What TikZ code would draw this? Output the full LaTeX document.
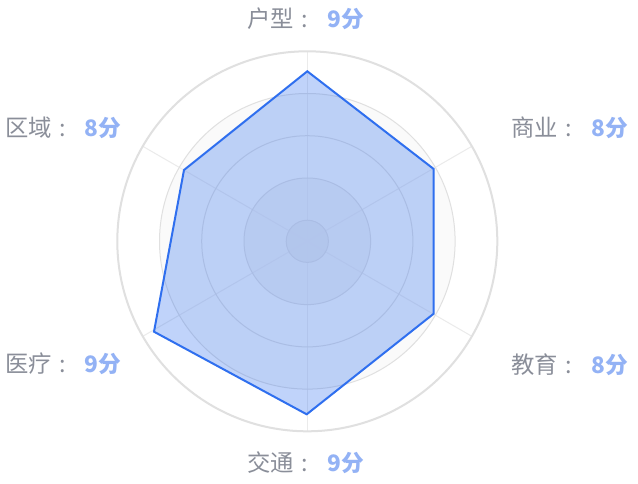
\documentclass[tikz,border=0pt]{standalone}
\usepackage{fontspec}
\newfontfamily\cjk{Noto Sans CJK SC}
\definecolor{ringA}{HTML}{FAFAFA}
\definecolor{ringB}{HTML}{F3F3F3}
\definecolor{ringC}{HTML}{ECECEC}
\definecolor{gridline}{HTML}{E0E0E0}
\definecolor{spoke}{HTML}{EBEBEB}
\definecolor{radarblue}{HTML}{2F6FEF}
\definecolor{labelgray}{HTML}{8A8E99}
\definecolor{scoreblue}{HTML}{93B2F5}
\tikzset{
  axislabel/.style={anchor=west, inner sep=0pt, text=labelgray, font=\cjk\fontsize{17.5pt}{20pt}\selectfont},
  scorelabel/.style={anchor=west, inner sep=0pt, text=scoreblue, font=\cjk\bfseries\fontsize{17pt}{20pt}\selectfont},
  ringline/.style={draw=gridline, line width=0.75pt},
  outerline/.style={draw=gridline, line width=1.5pt},
  spokeline/.style={draw=spoke, line width=0.75pt},
  radararea/.style={fill=radarblue, fill opacity=0.3, draw=radarblue, draw opacity=1, line width=1.5pt, line join=miter}
}
\newcommand\axtxt[1]{#1\hspace{6pt}:}
\begin{document}
\begin{tikzpicture}[x=0.75pt, y=-0.75pt]
\useasboundingbox[fill=white] (0,0) rectangle (638,484);
\coordinate (c) at (307.3,241.3);
% split areas
\fill[white] (c) circle[radius=190];
\fill[ringA] (c) circle[radius=147.8];
\fill[ringA] (c) circle[radius=105.6];
\fill[ringB] (c) circle[radius=63.3];
\fill[ringC] (c) circle[radius=21.1];
% spokes
\foreach \a in {90,30,-30,-90,-150,150}{
  \draw[spokeline] (c) -- ++(\a:190);
}
% circles
\draw[ringline] (c) circle[radius=21.1];
\draw[ringline] (c) circle[radius=63.3];
\draw[ringline] (c) circle[radius=105.6];
\draw[ringline] (c) circle[radius=147.8];
\draw[outerline] (c) circle[radius=190];
% data polygon
\coordinate (p1) at (307.3,71.3);
\coordinate (p2) at (433.7,169);
\coordinate (p3) at (433.7,313.7);
\coordinate (p4) at (306.7,414.3);
\coordinate (p5) at (154,331.7);
\coordinate (p6) at (184,170);
\draw[radararea] (p1) -- (p2) -- (p3) -- (p4) -- (p5) -- (p6) -- cycle;
% labels
\node[axislabel] (l1) at (247,19) {\axtxt{户型}};
\node[scorelabel] (s1) at (327,19) {9分};
\node[axislabel] (l2) at (511,128) {\axtxt{商业}};
\node[scorelabel] (s2) at (591,128) {8分};
\node[axislabel] (l3) at (511,365) {\axtxt{教育}};
\node[scorelabel] (s3) at (591,365) {8分};
\node[axislabel] (l4) at (247,463) {\axtxt{交通}};
\node[scorelabel] (s4) at (327,463) {9分};
\node[axislabel] (l5) at (5,364) {\axtxt{医疗}};
\node[scorelabel] (s5) at (84,364) {9分};
\node[axislabel] (l6) at (5,128) {\axtxt{区域}};
\node[scorelabel] (s6) at (84,128) {8分};
\end{tikzpicture}
\end{document}
